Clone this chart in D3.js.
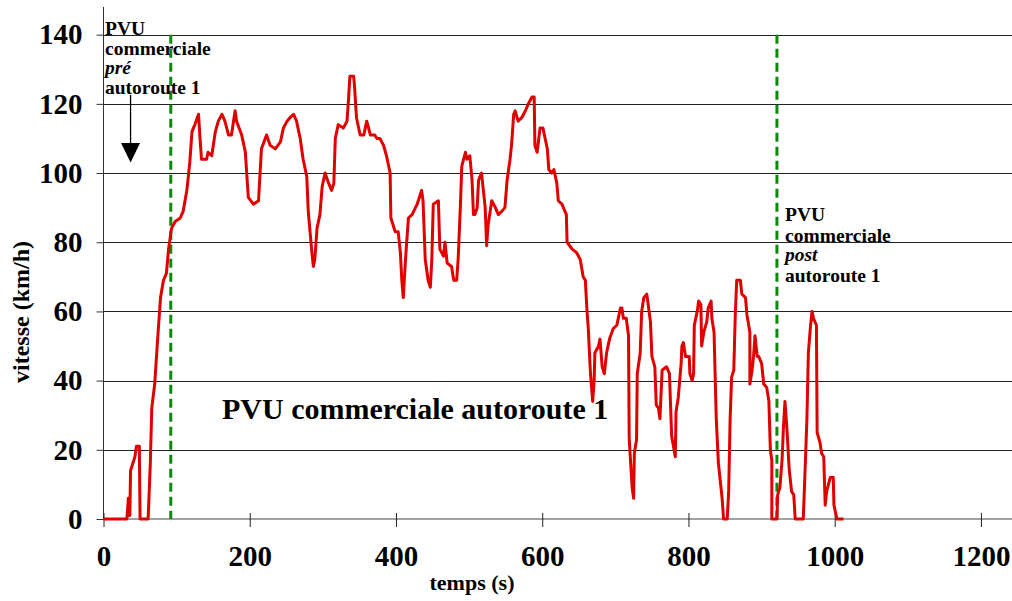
<!DOCTYPE html>
<html>
<head>
<meta charset="utf-8">
<script src="https://cdn.jsdelivr.net/npm/d3@7"></script>
<style>
  body { margin: 0; background: #fff; }
  svg text { font-family: "Times New Roman", "Liberation Serif", "DejaVu Serif", serif; font-weight: bold; fill: #000; }
</style>
</head>
<body>
<svg id="chart"></svg>
<script>
// speed trace (time in s, speed in km/h)
const temps = [0, 32, 34, 35, 36, 37, 43, 45, 49, 50, 61, 62, 64, 66, 70, 75, 78, 82, 86, 89,
  93, 98, 105, 109, 114, 118, 121, 125, 130, 132, 134, 141, 143, 148, 153, 157, 162, 166, 171, 175,
  180, 182, 189, 194, 198, 205, 212, 216, 223, 228, 235, 242, 246, 251, 255, 260, 264, 269, 273, 278,
  280, 285, 287, 289, 292, 296, 299, 303, 308, 312, 315, 317, 321, 328, 333, 335, 337, 342, 343, 346,
  351, 356, 360, 365, 371, 374, 378, 383, 387, 392, 393, 399, 403, 406, 408, 410, 413, 417, 422, 429,
  435, 437, 440, 444, 447, 449, 451, 458, 460, 465, 467, 470, 476, 479, 483, 485, 488, 490, 495, 497,
  501, 504, 506, 508, 511, 513, 517, 522, 524, 526, 531, 536, 540, 545, 549, 552, 556, 558, 561, 563,
  567, 572, 577, 581, 586, 589, 590, 593, 597, 601, 604, 607, 609, 613, 616, 620, 622, 627, 633, 634,
  641, 647, 652, 656, 659, 661, 663, 666, 669, 671, 672, 677, 679, 682, 685, 688, 692, 697, 702, 707,
  709, 711, 715, 718, 719, 723, 725, 726, 729, 730, 734, 736, 739, 743, 748, 750, 754, 756, 759, 761,
  764, 770, 774, 777, 782, 783, 786, 790, 791, 793, 796, 801, 802, 805, 807, 808, 812, 814, 817, 818,
  821, 825, 827, 831, 832, 835, 838, 841, 846, 848, 853, 855, 857, 859, 862, 864, 866, 871, 873, 878,
  880, 884, 884, 887, 889, 891, 894, 896, 900, 903, 907, 910, 912, 914, 914, 921, 922, 925, 928, 930,
  932, 935, 937, 938, 941, 944, 946, 957, 960, 962, 964, 967, 969, 971, 975, 976, 980, 982, 985, 987,
  989, 994, 998, 999, 1003, 1012];
const vitesse = [0, 0, 6, 1, 1, 14, 18, 21, 21, 0, 0, 5, 16, 32, 39, 55, 64, 69, 71, 78,
  84, 86, 87, 89, 95, 103, 112, 114, 117, 110, 104, 104, 106, 105, 112, 115, 117, 115, 111, 111,
  118, 115, 111, 106, 93, 91, 92, 107, 111, 108, 107, 109, 113, 115, 116, 117, 115, 110, 104, 99,
  89, 77, 73, 75, 84, 88, 96, 100, 97, 95, 97, 110, 114, 113, 115, 121, 128, 128, 126, 116,
  111, 111, 115, 111, 111, 110, 110, 108, 105, 100, 87, 83, 83, 77, 69, 64, 75, 87, 88, 91,
  95, 92, 75, 69, 67, 75, 91, 92, 78, 76, 80, 74, 73, 69, 69, 75, 90, 102, 106, 104,
  105, 98, 88, 88, 90, 98, 100, 90, 79, 85, 92, 90, 88, 89, 90, 98, 104, 108, 117, 118,
  115, 116, 118, 120, 122, 122, 108, 106, 113, 113, 110, 107, 101, 100, 101, 97, 92, 91, 88, 80,
  78, 77, 75, 70, 69, 61, 55, 42, 34, 40, 48, 50, 52, 44, 42, 48, 52, 55, 56, 61,
  61, 58, 58, 53, 23, 9, 6, 19, 23, 42, 48, 60, 64, 65, 57, 47, 44, 33, 32, 29,
  43, 44, 42, 24, 18, 31, 35, 45, 50, 51, 47, 47, 42, 40, 42, 56, 60, 63, 62, 50,
  54, 57, 61, 63, 58, 54, 29, 16, 6, 0, 0, 8, 29, 41, 43, 59, 69, 69, 65, 64,
  59, 54, 39, 43, 47, 53, 47, 47, 45, 39, 38, 34, 20, 17, 0, 0, 7, 9, 17, 27,
  34, 25, 17, 14, 8, 7, 0, 0, 17, 29, 48, 56, 60, 58, 56, 25, 22, 19, 18, 4,
  8, 12, 12, 4, 0, 0];

const xTicks = [0, 200, 400, 600, 800, 1000, 1200];
const yTicks = [0, 20, 40, 60, 80, 100, 120, 140];
const phaseLimits = [92, 921];   // green dashed lines: start / end of the autoroute part

const serif = '"Times New Roman", "Liberation Serif", "DejaVu Serif", serif';
const width = 1012, height = 601;
const svg = d3.select('#chart').attr('width', width).attr('height', height);

const x = d3.scaleLinear().domain([0, 1250]).range([103.5, 1017.5]);
const y = d3.scaleLinear().domain([0, 148]).range([519, 7]);

// horizontal grid lines
svg.append('g')
  .selectAll('line')
  .data(yTicks.filter(d => d > 0))
  .enter()
  .append('line')
  .attr('x1', x(0)).attr('x2', width)
  .attr('y1', d => Math.round(y(d)) + 0.5)
  .attr('y2', d => Math.round(y(d)) + 0.5)
  .attr('stroke', '#222')
  .attr('stroke-width', 1);

// y axis
const yAxis = d3.axisLeft(y).tickValues(yTicks).tickSize(7).tickPadding(14);
const gy = svg.append('g')
  .attr('transform', `translate(${x(0)},0)`)
  .call(yAxis)
  .attr('font-family', serif)
  .attr('font-size', 29)
  .attr('font-weight', 'bold');
gy.select('.domain').attr('d', `M0,${y(148)}V${y(0)}`).attr('stroke', '#333');
gy.selectAll('.tick line').attr('stroke', '#333');

// x axis (ticks cross the line)
const xAxis = d3.axisBottom(x).tickValues(xTicks).tickFormat(d3.format('d')).tickSize(0).tickPadding(26);
const gx = svg.append('g')
  .attr('transform', `translate(0,${y(0)})`)
  .call(xAxis)
  .attr('font-family', serif)
  .attr('font-size', 29)
  .attr('font-weight', 'bold');
gx.select('.domain').attr('d', `M${x(0)},0H${width}`).attr('stroke', '#444');
gx.selectAll('.tick').append('line')
  .attr('y1', -6).attr('y2', 8)
  .attr('stroke', '#222');

// phase limits
svg.append('g')
  .selectAll('line')
  .data(phaseLimits)
  .enter()
  .append('line')
  .attr('x1', d => x(d)).attr('x2', d => x(d))
  .attr('y1', y(140)).attr('y2', y(0))
  .attr('stroke', '#0a8a0a')
  .attr('stroke-width', 3)
  .attr('stroke-dasharray', '9,5');

// speed trace
const line = d3.line()
  .x((d, i) => x(temps[i]))
  .y(d => y(d));

svg.append('path')
  .datum(vitesse)
  .attr('d', line)
  .attr('fill', 'none')
  .attr('stroke', '#e00000')
  .attr('stroke-width', 3)
  .attr('stroke-linejoin', 'round');

// axis titles
svg.append('text')
  .attr('x', 472)
  .attr('y', 590)
  .attr('text-anchor', 'middle')
  .attr('font-family', serif)
  .style('font-size', '22px')
  .text('temps (s)');

svg.append('text')
  .attr('transform', 'translate(29,312) rotate(-90)')
  .attr('text-anchor', 'middle')
  .attr('font-family', serif)
  .style('font-size', '24px')
  .text('vitesse (km/h)');

// labels
svg.append('text')
  .attr('x', 222)
  .attr('y', 419)
  .attr('font-family', serif)
  .style('font-size', '30px')
  .text('PVU commerciale autoroute 1');

function phaseLabel(x0, baselines, word) {
  const lines = ['PVU', 'commerciale', word, 'autoroute 1'];
  const g = svg.append('g').attr('font-family', serif);
  lines.forEach((t, i) => {
    g.append('text')
      .attr('x', x0)
      .attr('y', baselines[i])
      .style('font-size', '19.5px')
      .style('font-style', i === 2 ? 'italic' : 'normal')
      .text(t);
  });
}
phaseLabel(105, [35, 54.5, 74, 93.5], 'pré');
phaseLabel(785, [221, 241.5, 261, 281.5], 'post');

// arrow under the "pré" label
const ax = x(37);
svg.append('line')
  .attr('x1', ax).attr('x2', ax)
  .attr('y1', 95).attr('y2', 144)
  .attr('stroke', '#000')
  .attr('stroke-width', 1.3);
svg.append('path')
  .attr('d', `M${ax - 9.5},143L${ax + 9.5},143L${ax},162.5Z`)
  .attr('fill', '#000');
</script>
</body>
</html>
